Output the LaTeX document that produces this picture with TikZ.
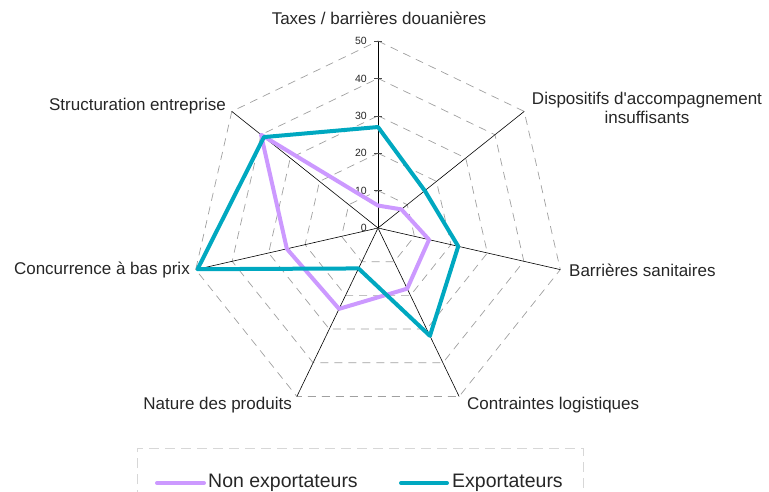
\documentclass[tikz,border=0pt]{standalone}
\usepackage{fontspec}
\setmainfont{Liberation Sans}
\newfontfamily\plainsans{Liberation Sans}
\definecolor{nonexp}{RGB}{204,153,255}
\definecolor{exp}{RGB}{0,168,192}
\definecolor{gridc}{RGB}{160,160,160}
\definecolor{legc}{RGB}{215,215,215}
\tikzset{
  axisline/.style={black,line width=0.6pt},
  gridline/.style={gridc,line width=0.7pt,dash pattern=on 8pt off 6pt},
  lbl/.style={font=\fontsize{17}{20}\selectfont,inner sep=0pt,text=black!85},
  ticklbl/.style={font=\fontsize{10.5}{12}\selectfont,inner sep=0pt,anchor=east,text=black!85},
  serie/.style={line width=4pt,line join=round},
  legtxt/.style={font=\fontsize{19.5}{22}\selectfont,inner sep=0pt,anchor=west,text=black!85}
}
\begin{document}
\begin{tikzpicture}[x=1pt,y=1pt]
\useasboundingbox (0,0) rectangle (769,-491);
\begin{scope}[shift={(378,-228)}]
  % axis end points
  \foreach \i/\nm in {0/ta,1/di,2/ba,3/co,4/na,5/cc,6/st}{
    \coordinate (\nm) at ({90-\i*360/7}:187);
  }
  \coordinate (O) at (0,0);
  % grid heptagons
  \foreach \v in {1,...,5}{
    \draw[gridline] ({90}:{\v*37.4}) \foreach \i in {1,...,6}{ -- ({90-\i*360/7}:{\v*37.4}) } -- cycle;
  }
  % axes
  \foreach \nm in {ta,di,ba,co,na,cc,st}{
    \draw[axisline] (O) -- (\nm);
  }
  % ticks and tick labels
  \foreach \v in {0,1,...,5}{
    \draw[black!70,line width=0.6pt] (-4,{\v*37.4}) -- (4,{\v*37.4});
    \pgfmathtruncatemacro{\lab}{\v*10}
    \node[ticklbl] (t\v) at (-11,{\v*37.4}) {\lab};
  }
  % series
  \foreach \i/\val/\nm in {0/6/a,1/8/b,2/14/c,3/18/d,4/24/e,5/25/f,6/40/g}{
    \coordinate (n\nm) at ({90-\i*360/7}:{\val*3.74});
  }
  \foreach \i/\val/\nm in {0/27/a,1/16/b,2/22/c,3/32/d,4/12/e,5/49.5/f,6/39/g}{
    \coordinate (e\nm) at ({90-\i*360/7}:{\val*3.74});
  }
  \draw[serie,nonexp] (na) -- (nb) -- (nc) -- (nd) -- (ne) -- (nf) -- (ng) -- cycle;
  \draw[serie,exp] (ea) -- (eb) -- (ec) -- (ed) -- (ee) -- (ef) -- (eg) -- cycle;
\end{scope}
% axis labels
\node[lbl] (Lta) at (379,-18) {Taxes / barrières douanières};
\node[lbl,align=center] (Ldi) at (647,-107.5) {\plainsans Dispositifs d'accompagnement\\[-1pt]insuffisants};
\node[lbl,anchor=west] (Lba) at (569,-270) {Barrières sanitaires};
\node[lbl,anchor=west] (Lco) at (467,-405) {Contraintes logistiques};
\node[lbl,anchor=east] (Lna) at (292,-405) {Nature des produits};
\node[lbl,anchor=east] (Lcc) at (190,-270) {Concurrence à bas prix};
\node[lbl,anchor=east] (Lst) at (226,-106) {Structuration entreprise};
% legend
\draw[legc,line width=0.8pt,dash pattern=on 10pt off 6pt] (137,-500) -- (137,-448) -- (583,-448) -- (583,-500);
\coordinate (l1a) at (157,-483);
\coordinate (l1b) at (204,-483);
\coordinate (l2a) at (401,-483);
\coordinate (l2b) at (447,-483);
\draw[nonexp,line width=4pt,line cap=round] (l1a) -- (l1b);
\draw[exp,line width=4pt,line cap=round] (l2a) -- (l2b);
\node[legtxt] (leg1) at (208,-483) {Non exportateurs};
\node[legtxt] (leg2) at (452,-483) {Exportateurs};
\end{tikzpicture}
\end{document}
